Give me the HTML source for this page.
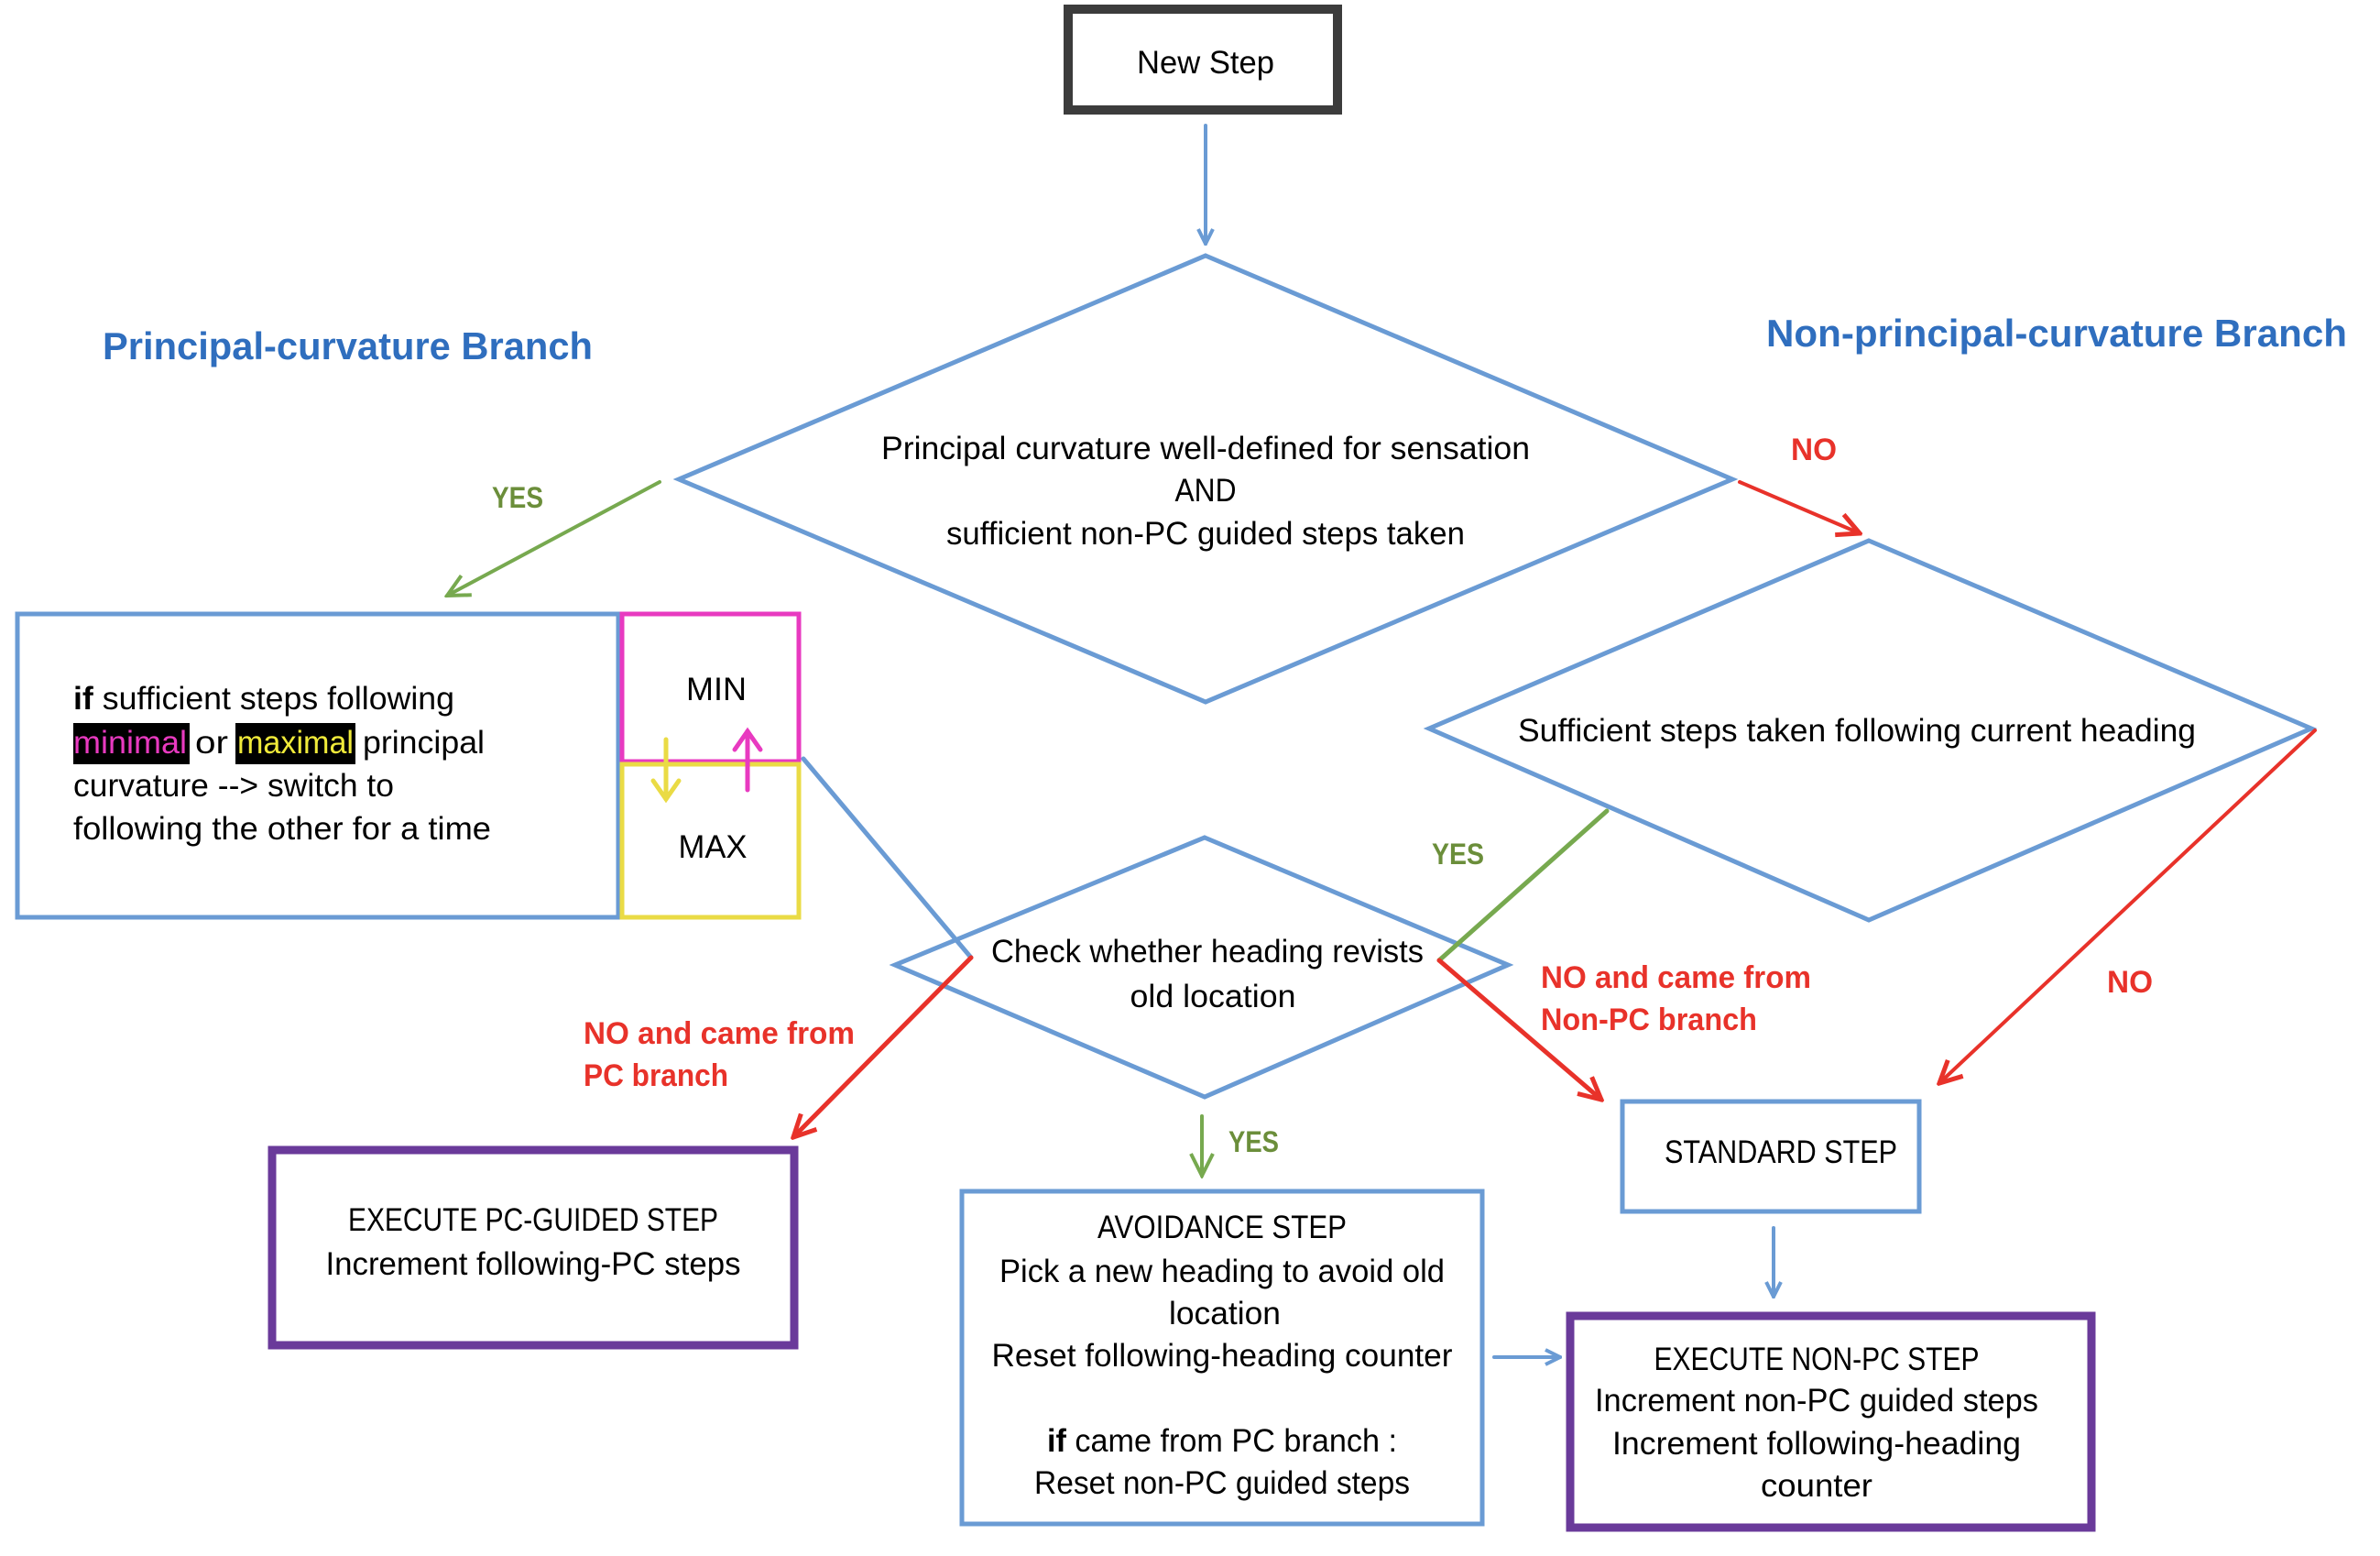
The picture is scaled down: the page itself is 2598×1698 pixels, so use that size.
<!DOCTYPE html>
<html><head><meta charset="utf-8"><style>
html,body{margin:0;padding:0;background:#fff}
svg{display:block}
text{font-family:"Liberation Sans",sans-serif;font-size:35px;fill:#000}
.hd{font-weight:bold;fill:#2F6EBE;font-size:42px}
.g{font-weight:bold;fill:#6B8E3A;font-size:32px}
.r{font-weight:bold;fill:#E8322A;font-size:34px}
</style></head><body>
<svg width="2598" height="1698" viewBox="0 0 2598 1698" xmlns="http://www.w3.org/2000/svg">
<defs>
<marker id="ab" viewBox="0 0 20 20" refX="18" refY="10" markerWidth="20" markerHeight="20" markerUnits="userSpaceOnUse" orient="auto"><polyline points="2,2 18,10 2,18" fill="none" stroke="#6A9BD4" stroke-width="4"/></marker>
<marker id="ag" viewBox="0 0 30 30" refX="27" refY="15" markerWidth="30" markerHeight="30" markerUnits="userSpaceOnUse" orient="auto"><polyline points="3,3 27,15 3,27" fill="none" stroke="#77A94F" stroke-width="4"/></marker>
<marker id="ar" viewBox="0 0 30 30" refX="27" refY="15" markerWidth="30" markerHeight="30" markerUnits="userSpaceOnUse" orient="auto"><polyline points="3,3 27,15 3,27" fill="none" stroke="#E8322A" stroke-width="5"/></marker>
</defs>
<g fill="none" stroke-linecap="round">
<rect x="1166" y="10" width="294" height="110" stroke="#3C3C3C" stroke-width="10"/>
<line x1="1316" y1="137" x2="1316" y2="266" stroke="#6A9BD4" stroke-width="4" marker-end="url(#ab)"/>
<polygon points="1316,279 1891,523 1316,766 741,523" stroke="#6A9BD4" stroke-width="5"/>
<polygon points="2040,590 2523,795 2040,1004 1560,795" stroke="#6A9BD4" stroke-width="5"/>
<polygon points="1315,914 1646,1053 1315,1197 977,1053" stroke="#6A9BD4" stroke-width="5"/>
<rect x="19" y="670" width="656" height="331" stroke="#6A9BD4" stroke-width="5"/>
<rect x="679" y="670" width="193" height="161" stroke="#E83AC0" stroke-width="5"/>
<rect x="679" y="834" width="193" height="167" stroke="#EADB45" stroke-width="5"/>
<line x1="727" y1="807" x2="727" y2="872" stroke="#EADB45" stroke-width="5"/>
<polyline points="713,852 727,872 741,852" stroke="#EADB45" stroke-width="5"/>
<line x1="816" y1="862" x2="816" y2="798" stroke="#E83AC0" stroke-width="5"/>
<polyline points="802,818 816,798 830,818" stroke="#E83AC0" stroke-width="5"/>
<line x1="877" y1="828" x2="1060" y2="1045" stroke="#6A9BD4" stroke-width="5"/>
<rect x="297" y="1255" width="570" height="213" stroke="#6A3A9A" stroke-width="9"/>
<rect x="1050" y="1300" width="568" height="363" stroke="#6A9BD4" stroke-width="5"/>
<rect x="1771" y="1202" width="324" height="120" stroke="#6A9BD4" stroke-width="5"/>
<rect x="1714" y="1436" width="569" height="231" stroke="#6A3A9A" stroke-width="9"/>
<line x1="720" y1="526" x2="488" y2="650" stroke="#77A94F" stroke-width="4" marker-end="url(#ag)"/>
<line x1="1899" y1="526" x2="2030" y2="582" stroke="#E8322A" stroke-width="4" marker-end="url(#ar)"/>
<line x1="2527" y1="797" x2="2117" y2="1182" stroke="#E8322A" stroke-width="4" marker-end="url(#ar)"/>
<line x1="1754" y1="885" x2="1571" y2="1048" stroke="#77A94F" stroke-width="5"/>
<line x1="1060" y1="1045" x2="866" y2="1241" stroke="#E8322A" stroke-width="5" marker-end="url(#ar)"/>
<line x1="1571" y1="1048" x2="1748" y2="1200" stroke="#E8322A" stroke-width="5" marker-end="url(#ar)"/>
<line x1="1312" y1="1218" x2="1312" y2="1283" stroke="#77A94F" stroke-width="4" marker-end="url(#ag)"/>
<line x1="1936" y1="1340" x2="1936" y2="1415" stroke="#6A9BD4" stroke-width="4" marker-end="url(#ab)"/>
<line x1="1631" y1="1481" x2="1703" y2="1481" stroke="#6A9BD4" stroke-width="4" marker-end="url(#ab)"/>
</g>
<rect x="80" y="789" width="127" height="45" fill="#000"/>
<rect x="257" y="789" width="131" height="45" fill="#000"/>
<text x="1316" y="80" text-anchor="middle" textLength="150" lengthAdjust="spacingAndGlyphs">New Step</text>
<text x="112" y="392" class="hd" textLength="535" lengthAdjust="spacingAndGlyphs">Principal-curvature Branch</text>
<text x="1928" y="378" class="hd" textLength="634" lengthAdjust="spacingAndGlyphs">Non-principal-curvature Branch</text>
<text x="1316" y="501" text-anchor="middle" textLength="708" lengthAdjust="spacingAndGlyphs">Principal curvature well-defined for sensation</text>
<text x="1316" y="547" text-anchor="middle" textLength="67" lengthAdjust="spacingAndGlyphs">AND</text>
<text x="1316" y="594" text-anchor="middle" textLength="566" lengthAdjust="spacingAndGlyphs">sufficient non-PC guided steps taken</text>
<text x="537" y="554" class="g" textLength="56" lengthAdjust="spacingAndGlyphs">YES</text>
<text x="1955" y="502" class="r" textLength="50" lengthAdjust="spacingAndGlyphs">NO</text>
<text x="2300" y="1083" class="r" textLength="50" lengthAdjust="spacingAndGlyphs">NO</text>
<text x="1563" y="943" class="g" textLength="57" lengthAdjust="spacingAndGlyphs">YES</text>
<text x="1341" y="1257" class="g" textLength="55" lengthAdjust="spacingAndGlyphs">YES</text>
<text x="2027" y="809" text-anchor="middle" textLength="740" lengthAdjust="spacingAndGlyphs">Sufficient steps taken following current heading</text>
<text x="1318" y="1050" text-anchor="middle" textLength="472" lengthAdjust="spacingAndGlyphs">Check whether heading revists</text>
<text x="1324" y="1099" text-anchor="middle" textLength="181" lengthAdjust="spacingAndGlyphs">old location</text>
<text x="637" y="1139" class="r" textLength="296" lengthAdjust="spacingAndGlyphs">NO and came from</text>
<text x="637" y="1185" class="r" textLength="158" lengthAdjust="spacingAndGlyphs">PC branch</text>
<text x="1682" y="1078" class="r" textLength="295" lengthAdjust="spacingAndGlyphs">NO and came from</text>
<text x="1682" y="1124" class="r" textLength="236" lengthAdjust="spacingAndGlyphs">Non-PC branch</text>
<text x="80" y="774" textLength="416" lengthAdjust="spacingAndGlyphs"><tspan font-weight="bold">if</tspan> sufficient steps following</text>
<text x="80" y="822" fill="#E83AC0" style="fill:#E83AC0" textLength="124" lengthAdjust="spacingAndGlyphs">minimal</text>
<text x="213" y="822" textLength="36" lengthAdjust="spacingAndGlyphs">or</text>
<text x="259" y="822" style="fill:#F0EA3A" textLength="127" lengthAdjust="spacingAndGlyphs">maximal</text>
<text x="396" y="822" textLength="133" lengthAdjust="spacingAndGlyphs">principal</text>
<text x="80" y="869" textLength="350" lengthAdjust="spacingAndGlyphs">curvature --&gt; switch to</text>
<text x="80" y="916" textLength="456" lengthAdjust="spacingAndGlyphs">following the other for a time</text>
<text x="782" y="764" text-anchor="middle" textLength="66" lengthAdjust="spacingAndGlyphs">MIN</text>
<text x="778" y="936" text-anchor="middle" textLength="75" lengthAdjust="spacingAndGlyphs">MAX</text>
<text x="582" y="1343" text-anchor="middle" textLength="404" lengthAdjust="spacingAndGlyphs">EXECUTE PC-GUIDED STEP</text>
<text x="582" y="1391" text-anchor="middle" textLength="453" lengthAdjust="spacingAndGlyphs">Increment following-PC steps</text>
<text x="1334" y="1351" text-anchor="middle" textLength="272" lengthAdjust="spacingAndGlyphs">AVOIDANCE STEP</text>
<text x="1334" y="1399" text-anchor="middle" textLength="486" lengthAdjust="spacingAndGlyphs">Pick a new heading to avoid old</text>
<text x="1337" y="1445" text-anchor="middle" textLength="122" lengthAdjust="spacingAndGlyphs">location</text>
<text x="1334" y="1491" text-anchor="middle" textLength="503" lengthAdjust="spacingAndGlyphs">Reset following-heading counter</text>
<text x="1334" y="1584" text-anchor="middle" textLength="382" lengthAdjust="spacingAndGlyphs"><tspan font-weight="bold">if</tspan> came from PC branch :</text>
<text x="1334" y="1630" text-anchor="middle" textLength="410" lengthAdjust="spacingAndGlyphs">Reset non-PC guided steps</text>
<text x="1944" y="1269" text-anchor="middle" textLength="254" lengthAdjust="spacingAndGlyphs">STANDARD STEP</text>
<text x="1983" y="1495" text-anchor="middle" textLength="355" lengthAdjust="spacingAndGlyphs">EXECUTE NON-PC STEP</text>
<text x="1983" y="1540" text-anchor="middle" textLength="484" lengthAdjust="spacingAndGlyphs">Increment non-PC guided steps</text>
<text x="1983" y="1587" text-anchor="middle" textLength="446" lengthAdjust="spacingAndGlyphs">Increment following-heading</text>
<text x="1983" y="1633" text-anchor="middle" textLength="122" lengthAdjust="spacingAndGlyphs">counter</text>
</svg>
</body></html>
